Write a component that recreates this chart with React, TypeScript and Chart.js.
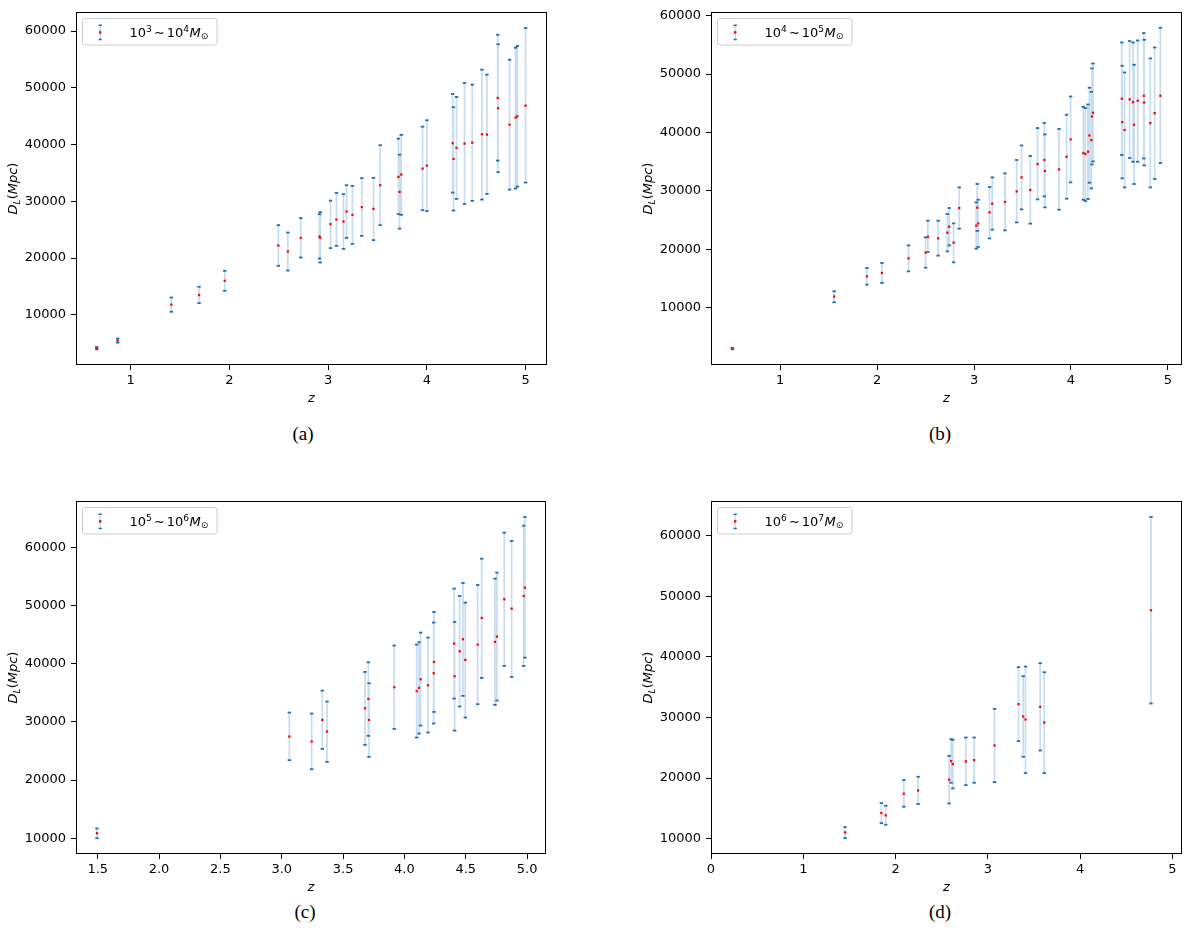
import React, { useEffect, useRef } from "react";
import { Chart, registerables } from "chart.js";

Chart.register(...registerables);

const SANS = '"DejaVu Sans", "Noto Sans", sans-serif';
const SERIF = '"Liberation Serif", "DejaVu Serif", serif';

const ERR_COLOR = "#c6dcef";
const CAP_COLOR = "#1f6fb2";
const CENTER_COLOR = "#ff0000";

// ---------- Panel (a): 10^3 ~ 10^4 Msun ----------
const zA = [0.658, 0.87, 1.413, 1.694, 1.954, 2.497, 2.593, 2.724, 2.913, 2.92, 3.025, 3.085, 3.156, 3.187, 3.247, 3.342, 3.46, 3.528, 3.713, 3.724, 3.741, 3.957, 4.001, 4.262, 4.27, 4.301, 4.382, 4.46, 4.558, 4.609, 4.718, 4.722, 4.838, 4.899, 4.916, 5.0];
const dlA = [4100, 5450, 11780, 13470, 15990, 22200, 21150, 23560, 23790, 23560, 25970, 26780, 26430, 28190, 27610, 28960, 28660, 32830, 34300, 31650, 34700, 35760, 36290, 40230, 37460, 39400, 40160, 40330, 41810, 41750, 48200, 46390, 43500, 44740, 44980, 46850];
const loA = [3900, 5100, 10530, 12050, 14220, 18630, 17800, 20090, 19910, 19210, 21740, 22150, 21620, 23560, 22500, 23910, 23150, 25790, 27730, 25190, 27610, 28430, 28260, 31530, 28360, 30420, 29540, 30070, 30300, 31300, 37170, 35120, 32060, 32240, 32590, 33290];
const hiA = [4300, 5800, 13040, 14930, 17750, 25790, 24490, 27020, 27730, 28080, 30120, 31480, 31250, 32830, 32710, 34070, 34120, 39880, 41040, 38220, 41690, 43150, 44280, 48910, 46570, 48380, 50850, 50550, 53190, 52310, 59350, 57660, 54950, 57060, 57360, 60530];

// ---------- Panel (b): 10^4 ~ 10^5 Msun ----------
const zB = [0.508, 1.557, 1.895, 2.05, 2.324, 2.5, 2.524, 2.63, 2.725, 2.744, 2.789, 2.847, 3.023, 3.033, 3.043, 3.16, 3.188, 3.319, 3.44, 3.49, 3.58, 3.655, 3.725, 3.731, 3.876, 3.955, 3.996, 4.127, 4.148, 4.175, 4.19, 4.21, 4.216, 4.227, 4.524, 4.528, 4.553, 4.605, 4.64, 4.65, 4.688, 4.751, 4.755, 4.818, 4.863, 4.922];
const dlB = [3060, 11950, 15410, 15990, 18480, 19460, 22190, 21900, 22870, 23900, 21170, 27090, 24070, 27150, 24460, 26340, 27830, 28120, 29930, 32320, 30170, 34610, 35300, 33420, 33690, 35860, 38820, 36490, 36320, 36710, 39500, 38710, 42740, 43380, 45770, 41780, 40420, 45650, 45200, 41330, 45430, 46280, 45140, 41610, 43320, 46280];
const loB = [2950, 10970, 13990, 14280, 16260, 16890, 19580, 18950, 19680, 20700, 17800, 23560, 20140, 23170, 20430, 21900, 23390, 23270, 24630, 26860, 24410, 28560, 29080, 27200, 26800, 28680, 31470, 28510, 28290, 28630, 31420, 30440, 34540, 35060, 36140, 32160, 30620, 35630, 35000, 31190, 35000, 35570, 34380, 30620, 32040, 34780];
const hiB = [3160, 12850, 16840, 17700, 20700, 22070, 24920, 24920, 26070, 27090, 24460, 30610, 28050, 31200, 28510, 30680, 32320, 33010, 35300, 37790, 35980, 40760, 41620, 39670, 40590, 43040, 46160, 44400, 44180, 44790, 47650, 46960, 50950, 51800, 55390, 51410, 50270, 55620, 55390, 51580, 55730, 56990, 55850, 52660, 54540, 57900];

// ---------- Panel (c): 10^5 ~ 10^6 Msun ----------
const zC = [1.494, 3.062, 3.244, 3.331, 3.369, 3.679, 3.706, 3.711, 3.917, 4.1, 4.119, 4.132, 4.192, 4.238, 4.241, 4.405, 4.409, 4.45, 4.477, 4.496, 4.597, 4.63, 4.738, 4.754, 4.814, 4.874, 4.972, 4.982];
const dlC = [10850, 27470, 26610, 30340, 28330, 32340, 33940, 30340, 35950, 35260, 35830, 37320, 36290, 38350, 40300, 43450, 37840, 42130, 44190, 40640, 43280, 47860, 43740, 44650, 51070, 49460, 51640, 53070];
const loC = [10000, 23410, 21860, 25350, 23120, 26040, 27590, 23980, 28790, 27300, 27990, 29360, 28160, 29710, 31710, 34000, 28500, 32630, 34460, 30740, 33030, 37550, 32910, 33660, 39610, 37720, 39610, 41040];
const hiC = [11670, 31600, 31420, 35370, 33480, 38580, 40240, 36630, 43110, 43280, 43680, 45340, 44480, 47060, 48890, 52900, 47170, 51640, 53870, 50490, 53530, 58050, 54620, 55650, 62520, 61090, 63720, 65210];

// ---------- Panel (d): 10^6 ~ 10^7 Msun ----------
const zD = [1.453, 1.847, 1.894, 2.09, 2.245, 2.581, 2.603, 2.621, 2.762, 2.852, 3.073, 3.333, 3.384, 3.409, 3.568, 3.612, 4.769];
const dlD = [11040, 14230, 13850, 17420, 17970, 19730, 22800, 22310, 22750, 22970, 25390, 32200, 30170, 29670, 31760, 29180, 47690];
const loD = [10110, 12580, 12310, 15280, 15720, 15820, 19230, 18300, 18850, 19230, 19340, 26100, 23520, 20820, 24560, 20820, 32310];
const hiD = [11920, 15880, 15440, 19670, 20220, 23680, 26430, 26320, 26700, 26700, 31430, 38300, 36810, 38410, 38960, 37470, 63080];

// ---------- ticks & labels ----------
const yTicks = [10000, 20000, 30000, 40000, 50000, 60000];
const xTicksA = [1, 2, 3, 4, 5];
const xTicksB = [1, 2, 3, 4, 5];
const xTicksC = [1.5, 2.0, 2.5, 3.0, 3.5, 4.0, 4.5, 5.0];
const xTicksD = [0, 1, 2, 3, 4, 5];
const massExpLo = ["3", "4", "5", "6"];
const massExpHi = ["4", "5", "6", "7"];
const captions = ["(a)", "(b)", "(c)", "(d)"];
const xTitle = "z";

// ---------- layout constants ----------
const YW = 76; // y scale width in canvas
const TPAD = 20; // top padding in canvas
const XH = 41.5; // x scale height (ticks + title)
const BPAD = 4.5;
const RPAD = 14;

type Seg = { t: string; size: number; italic?: boolean; dy?: number; pre?: number; post?: number };

function segFont(s: Seg) {
  return `${s.italic ? "italic " : ""}${s.size}px ${SANS}`;
}

function drawSegs(ctx: CanvasRenderingContext2D, segs: Seg[], x: number, y: number, align: "left" | "center") {
  const widths = segs.map((s) => {
    ctx.font = segFont(s);
    return ctx.measureText(s.t).width;
  });
  const total = segs.reduce((acc, s, i) => acc + (s.pre || 0) + widths[i] + (s.post || 0), 0);
  let cx = align === "center" ? x - total / 2 : x;
  ctx.textAlign = "left";
  segs.forEach((s, i) => {
    cx += s.pre || 0;
    ctx.font = segFont(s);
    ctx.fillText(s.t, cx, y + (s.dy || 0));
    cx += widths[i] + (s.post || 0);
  });
}

type PanelCfg = {
  z: number[];
  dl: number[];
  lo: number[];
  hi: number[];
  xTicks: number[];
  xDec: number;
  xMin: number;
  xMax: number;
  yMin: number;
  yMax: number;
  expLo: string;
  expHi: string;
  caption: string;
  axL: number;
  axT: number;
  axR: number;
  axB: number;
  capX: number;
  capY: number;
};

const PANELS: PanelCfg[] = [
  { z: zA, dl: dlA, lo: loA, hi: hiA, xTicks: xTicksA, xDec: 0, xMin: 0.448, xMax: 5.217, yMin: 1150, yMax: 63350, expLo: massExpLo[0], expHi: massExpHi[0], caption: captions[0], axL: 76, axT: 12, axR: 547, axB: 365, capX: 303, capY: 434 },
  { z: zB, dl: dlB, lo: loB, hi: hiB, xTicks: xTicksB, xDec: 0, xMin: 0.287, xMax: 5.145, yMin: 250, yMax: 60600, expLo: massExpLo[1], expHi: massExpHi[1], caption: captions[1], axL: 711, axT: 12, axR: 1182, axB: 365, capX: 940, capY: 434 },
  { z: zC, dl: dlC, lo: loC, hi: hiC, xTicks: xTicksC, xDec: 1, xMin: 1.323, xMax: 5.154, yMin: 7280, yMax: 67960, expLo: massExpLo[2], expHi: massExpHi[2], caption: captions[2], axL: 76, axT: 501, axR: 546, axB: 854, capX: 305, capY: 912 },
  { z: zD, dl: dlD, lo: loD, hi: hiD, xTicks: xTicksD, xDec: 0, xMin: 0, xMax: 5.105, yMin: 7480, yMax: 65720, expLo: massExpLo[3], expHi: massExpHi[3], caption: captions[3], axL: 711, axT: 501, axR: 1182, axB: 854, capX: 940, capY: 912 },
];

function Panel({ p }: { p: PanelCfg }) {
  const ref = useRef<HTMLCanvasElement | null>(null);
  const axW = p.axR - p.axL;
  const axH = p.axB - p.axT;
  const W = Math.round(YW + axW + RPAD);
  const H = Math.round(TPAD + axH + XH + BPAD);
  const cx = p.axL - YW;
  const cy = p.axT - TPAD;

  useEffect(() => {
    const canvas = ref.current;
    if (!canvas) return;

    const bars: any[] = [];
    const caps: any[] = [];
    const centers: any[] = [];
    p.z.forEach((z, i) => {
      bars.push({ x: z, y: p.lo[i] }, { x: z, y: p.hi[i] }, { x: z, y: null });
      caps.push({ x: z, y: p.lo[i] }, { x: z, y: p.hi[i] });
      centers.push({ x: z, y: p.dl[i] });
    });

    const framePlugin = {
      id: "frame",
      afterDatasetsDraw(chart: any) {
        const { ctx, chartArea: a } = chart;
        ctx.save();
        ctx.strokeStyle = "#000";
        ctx.lineWidth = 1;
        const l = Math.round(a.left) + 0.5;
        const t = Math.round(a.top) + 0.5;
        const r = Math.round(a.right) - 0.5;
        const b = Math.round(a.bottom) - 0.5;
        ctx.strokeRect(l, t, r - l, b - t);
        ctx.restore();
      },
    };

    const legendPlugin = {
      id: "mathLegend",
      afterDraw(chart: any) {
        const { ctx, chartArea: a } = chart;
        const bx = a.left + 6.5;
        const by = a.top + 6.5;
        const bw = 134.5;
        const bh = 26.5;
        const r = 2.6;
        ctx.save();
        ctx.beginPath();
        ctx.moveTo(bx + r, by);
        ctx.lineTo(bx + bw - r, by);
        ctx.arcTo(bx + bw, by, bx + bw, by + r, r);
        ctx.lineTo(bx + bw, by + bh - r);
        ctx.arcTo(bx + bw, by + bh, bx + bw - r, by + bh, r);
        ctx.lineTo(bx + r, by + bh);
        ctx.arcTo(bx, by + bh, bx, by + bh - r, r);
        ctx.lineTo(bx, by + r);
        ctx.arcTo(bx, by, bx + r, by, r);
        ctx.closePath();
        ctx.fillStyle = "rgba(255,255,255,0.8)";
        ctx.fill();
        ctx.strokeStyle = "#cccccc";
        ctx.lineWidth = 1;
        ctx.stroke();

        // icon
        const ix = bx + 17.7;
        const iy1 = by + 6.7;
        const iy2 = by + 21;
        ctx.strokeStyle = ERR_COLOR;
        ctx.lineWidth = 1.6;
        ctx.beginPath();
        ctx.moveTo(ix, iy1);
        ctx.lineTo(ix, iy2);
        ctx.stroke();
        ctx.strokeStyle = CAP_COLOR;
        ctx.lineWidth = 1.6;
        ctx.beginPath();
        ctx.moveTo(ix - 1.6, iy1);
        ctx.lineTo(ix + 1.6, iy1);
        ctx.moveTo(ix - 1.6, iy2);
        ctx.lineTo(ix + 1.6, iy2);
        ctx.stroke();
        ctx.fillStyle = CENTER_COLOR;
        ctx.fillRect(ix - 1.2, (iy1 + iy2) / 2 - 1.2, 2.4, 2.4);

        // text
        ctx.fillStyle = "#000";
        ctx.textBaseline = "alphabetic";
        drawSegs(
          ctx,
          [
            { t: "10", size: 13 },
            { t: p.expLo, size: 9.1, dy: -5 },
            { t: "\u223C", size: 13, pre: 2, post: 2 },
            { t: "10", size: 13 },
            { t: p.expHi, size: 9.1, dy: -5 },
            { t: "M", size: 13, italic: true, pre: 0.5 },
            { t: "\u2299", size: 9.1, dy: 2.5 },
          ],
          bx + 47,
          by + 18.4,
          "left"
        );
        ctx.restore();
      },
    };

    const yTitlePlugin = {
      id: "yTitle",
      afterDraw(chart: any) {
        const { ctx, chartArea: a } = chart;
        ctx.save();
        ctx.translate(17, (a.top + a.bottom) / 2);
        ctx.rotate(-Math.PI / 2);
        ctx.fillStyle = "#000";
        ctx.textBaseline = "alphabetic";
        drawSegs(
          ctx,
          [
            { t: "D", size: 13, italic: true },
            { t: "L", size: 9.1, italic: true, dy: 2.5 },
            { t: "(", size: 13 },
            { t: "Mpc", size: 13, italic: true },
            { t: ")", size: 13 },
          ],
          0,
          0,
          "center"
        );
        ctx.restore();
      },
    };

    const tickFont = { family: SANS, size: 13 };
    const gridCfg = {
      display: true,
      drawOnChartArea: false,
      drawTicks: true,
      tickLength: 5,
      color: "#000",
      lineWidth: 1,
    };

    const chart = new Chart(canvas, {
      type: "scatter",
      data: {
        datasets: [
          {
            // error bar stems (drawn first, behind)
            order: 3,
            data: bars,
            showLine: true,
            spanGaps: false,
            borderColor: ERR_COLOR,
            borderWidth: 1.7,
            pointRadius: 0,
            pointHoverRadius: 0,
          },
          {
            // caps
            order: 2,
            data: caps,
            showLine: false,
            pointStyle: "line",
            pointRadius: 1.7,
            pointHoverRadius: 1.7,
            pointBorderColor: CAP_COLOR,
            pointBackgroundColor: CAP_COLOR,
            pointBorderWidth: 1.8,
            borderColor: CAP_COLOR,
          },
          {
            // central values (on top)
            order: 1,
            data: centers,
            showLine: false,
            pointStyle: "rect",
            pointRadius: 1.6,
            pointHoverRadius: 1.6,
            pointBackgroundColor: CENTER_COLOR,
            pointBorderColor: CENTER_COLOR,
            pointBorderWidth: 0,
            backgroundColor: CENTER_COLOR,
          },
        ],
      } as any,
      options: {
        animation: false,
        responsive: false,
        maintainAspectRatio: false,
        events: [],
        layout: {
          padding: {
            left: 0,
            top: TPAD,
            right: W - YW - axW,
            bottom: H - TPAD - axH - XH,
          },
        },
        plugins: {
          legend: { display: false },
          tooltip: { enabled: false },
          title: { display: false },
        },
        scales: {
          x: {
            type: "linear",
            min: p.xMin,
            max: p.xMax,
            afterFit: (s: any) => {
              s.height = XH;
            },
            afterBuildTicks: (s: any) => {
              s.ticks = p.xTicks.map((v) => ({ value: v }));
            },
            ticks: {
              font: tickFont,
              color: "#000",
              padding: 3,
              autoSkip: false,
              maxRotation: 0,
              includeBounds: false,
              callback: (v: any) => Number(v).toFixed(p.xDec),
            },
            grid: gridCfg,
            border: { display: false },
            title: {
              display: true,
              text: xTitle,
              color: "#000",
              font: { family: SANS, size: 13, style: "italic" },
              padding: { top: 0, bottom: 0 },
            },
          },
          y: {
            type: "linear",
            min: p.yMin,
            max: p.yMax,
            afterFit: (s: any) => {
              s.width = YW;
            },
            afterBuildTicks: (s: any) => {
              s.ticks = yTicks.map((v) => ({ value: v }));
            },
            ticks: {
              font: tickFont,
              color: "#000",
              padding: 5,
              autoSkip: false,
              includeBounds: false,
              callback: (v: any) => String(v),
            },
            grid: gridCfg,
            border: { display: false },
          },
        },
      } as any,
      plugins: [framePlugin, legendPlugin, yTitlePlugin],
    });

    return () => chart.destroy();
  }, []);

  return (
    <>
      <canvas
        ref={ref}
        width={W}
        height={H}
        style={{ position: "absolute", left: cx, top: cy, width: W, height: H }}
      />
      <div
        style={{
          position: "absolute",
          left: p.capX - 50,
          top: p.capY - 11,
          width: 100,
          textAlign: "center",
          fontFamily: SERIF,
          fontSize: 19,
          lineHeight: "22px",
          color: "#000",
        }}
      >
        {p.caption}
      </div>
    </>
  );
}

export default function App() {
  return (
    <div
      style={{
        position: "absolute",
        left: 0,
        top: 0,
        width: 1200,
        height: 938,
        background: "#fff",
        overflow: "hidden",
      }}
    >
      {PANELS.map((p) => (
        <Panel key={p.caption} p={p} />
      ))}
    </div>
  );
}
